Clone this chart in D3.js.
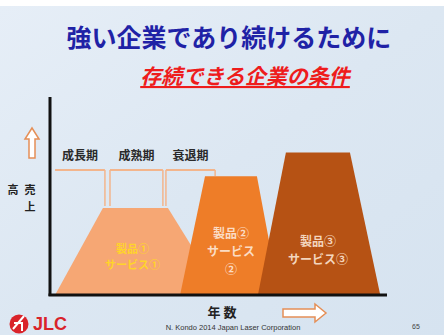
<!DOCTYPE html>
<html>
<head>
<meta charset="utf-8">
<script src="https://cdn.jsdelivr.net/npm/d3@7"></script>
<style>
  html, body { margin: 0; padding: 0; background: #fff; }
  svg { display: block; }
</style>
</head>
<body>
<div id="chart"></div>
<script>
// life-cycle phases of product 1 (start/end in "years")
const phases = ['成長期', '成熟期', '衰退期'];
const phaseStart = [1.5, 17.8, 34.4];
const phaseEnd = [16.3, 33.5, 49];

// products: trapezoids (base start, top start, top end, base end, peak sales)
const products = ['製品①', '製品②', '製品③'];
const productLines = [['製品①', 'サービス①'], ['製品②', 'サービス', '②'], ['製品③', 'サービス③']];
const baseStart = [1.5, 38.6, 61.7];
const topStart = [15.7, 46, 70];
const topEnd = [35, 61.4, 89];
const baseEnd = [51, 68, 98];
const peakSales = [44, 60, 72];
const fills = ['#f6a774', '#ee7d28', '#b65214'];
const textFills = ['#ffd42a', '#fbdcc4', '#f3d5bd'];

const W = 444, H = 335;
const jp = '"Noto Sans CJK JP", "Noto Sans", sans-serif';

const svg = d3.select('#chart').append('svg')
  .attr('width', W).attr('height', H);

const defs = svg.append('defs');
const bg = defs.append('linearGradient').attr('id', 'bg')
  .attr('x1', 0).attr('y1', 0).attr('x2', 1).attr('y2', 1);
bg.append('stop').attr('offset', '0%').attr('stop-color', '#e6eef7');
bg.append('stop').attr('offset', '50%').attr('stop-color', '#dce7f2');
bg.append('stop').attr('offset', '100%').attr('stop-color', '#d6e3f0');

svg.append('rect').attr('x', 0).attr('y', 6).attr('width', W).attr('height', H - 6)
  .attr('fill', 'url(#bg)');

// title
svg.append('text')
  .attr('x', 229).attr('y', 47)
  .attr('text-anchor', 'middle')
  .style('font-family', jp).style('font-weight', 'bold').style('font-size', '25px')
  .attr('fill', '#1f22a6')
  .text('強い企業であり続けるために');

svg.append('text')
  .attr('x', 245).attr('y', 84)
  .attr('text-anchor', 'middle')
  .style('font-family', jp).style('font-weight', 'bold').style('font-style', 'italic')
  .style('font-size', '21px').style('text-decoration', 'underline')
  .attr('fill', '#ee1c1c')
  .text('存続できる企業の条件');

// scales
const x = d3.scaleLinear().domain([0, 100]).range([50, 387]);
const y = d3.scaleLinear().domain([0, 100]).range([295, 97]);

// trapezoids
const area = d3.line().x(d => x(d[0])).y(d => y(d[1]));
products.forEach((p, i) => {
  const pts = [[baseStart[i], 0], [topStart[i], peakSales[i]], [topEnd[i], peakSales[i]], [baseEnd[i], 0]];
  svg.append('path')
    .attr('d', area(pts) + 'Z')
    .attr('fill', fills[i]);
  const cx = x((topStart[i] + topEnd[i]) / 2);
  const lines = productLines[i];
  const fs = i === 0 ? 11 : 12;
  const y0 = i === 0 ? 253 : (i === 1 ? 238 : 246);
  const lh = i === 0 ? 16 : 18;
  lines.forEach((t, j) => {
    svg.append('text')
      .attr('x', cx + (i === 0 ? -3 : 0)).attr('y', y0 + j * lh)
      .attr('text-anchor', 'middle')
      .style('font-family', jp).style('font-size', fs + 'px').style('font-weight', 'bold')
      .attr('fill', textFills[i])
      .text(t);
  });
});

// phase brackets
const bracketY = 170;
const dropY = y(peakSales[0]) - 2;
const bracketColor = '#f3b58c';
phases.forEach((ph, i) => {
  const g = svg.append('g');
  g.append('line')
    .attr('x1', x(phaseStart[i])).attr('x2', x(phaseEnd[i]))
    .attr('y1', bracketY).attr('y2', bracketY)
    .attr('stroke', bracketColor).attr('stroke-width', 2);
  if (i > 0) {
    g.append('line')
      .attr('x1', x(phaseStart[i])).attr('x2', x(phaseStart[i]))
      .attr('y1', bracketY).attr('y2', dropY)
      .attr('stroke', bracketColor).attr('stroke-width', 1.5);
  }
  g.append('line')
    .attr('x1', x(phaseEnd[i])).attr('x2', x(phaseEnd[i]))
    .attr('y1', bracketY).attr('y2', i < 2 ? dropY : bracketY + 6)
    .attr('stroke', bracketColor).attr('stroke-width', 1.5);
  g.append('text')
    .attr('x', x((phaseStart[i] + phaseEnd[i]) / 2)).attr('y', 160)
    .attr('text-anchor', 'middle')
    .style('font-family', jp).style('font-size', '12px').style('font-weight', 'bold')
    .attr('fill', '#2a2a2a')
    .text(ph);
});

// axes
svg.append('line')
  .attr('x1', x(0)).attr('x2', x(0)).attr('y1', y(100)).attr('y2', y(0) + 1)
  .attr('stroke', '#111').attr('stroke-width', 3);
svg.append('line')
  .attr('x1', x(0) - 1.5).attr('x2', x(100)).attr('y1', y(0)).attr('y2', y(0))
  .attr('stroke', '#111').attr('stroke-width', 3);

// y label (vertical 売上高)
const yl = svg.append('g')
  .style('font-family', jp).style('font-size', '11px').style('font-weight', 'bold')
  .attr('fill', '#222');
yl.append('text').attr('x', 30).attr('y', 194).attr('text-anchor', 'middle').text('売');
yl.append('text').attr('x', 30).attr('y', 211).attr('text-anchor', 'middle').text('上');
yl.append('text').attr('x', 13).attr('y', 194).attr('text-anchor', 'middle').text('高');

// up arrow
svg.append('path')
  .attr('d', 'M32,128 L39,139 L35,139 L35,158 L29,158 L29,139 L25,139 Z')
  .attr('fill', '#fff').attr('stroke', '#e58f57').attr('stroke-width', 1.5);

// x label
svg.append('text')
  .attr('x', 222).attr('y', 317)
  .attr('text-anchor', 'middle')
  .style('font-family', jp).style('font-size', '13px').style('font-weight', 'bold')
  .attr('fill', '#222')
  .text('年 数');

// right arrow
svg.append('path')
  .attr('d', 'M283,309 L315,309 L315,304 L326,313 L315,322 L315,317 L283,317 Z')
  .attr('fill', '#fff').attr('stroke', '#e58f57').attr('stroke-width', 1.5);

// footer
svg.append('text')
  .attr('x', 233).attr('y', 330)
  .attr('text-anchor', 'middle')
  .style('font-family', '"Liberation Sans", Arial, sans-serif').style('font-size', '7.5px')
  .attr('fill', '#333')
  .text('N. Kondo 2014 Japan Laser Corporation');

svg.append('text')
  .attr('x', 416).attr('y', 329)
  .attr('text-anchor', 'middle')
  .style('font-family', '"Liberation Sans", Arial, sans-serif').style('font-size', '7px')
  .attr('fill', '#444')
  .text('65');

// logo
const logo = svg.append('g');
logo.append('circle').attr('cx', 19).attr('cy', 324).attr('r', 9.5).attr('fill', '#d9232a');
logo.append('path')
  .attr('d', 'M13,329 L24,316 M14,323 L22,323 L22,331')
  .attr('stroke', '#fff').attr('stroke-width', 2).attr('fill', 'none');
logo.append('text')
  .attr('x', 33).attr('y', 330)
  .style('font-family', '"Liberation Sans", Arial, sans-serif').style('font-size', '18px')
  .style('font-weight', 'bold')
  .attr('fill', '#d9232a')
  .text('JLC');
</script>
</body>
</html>
